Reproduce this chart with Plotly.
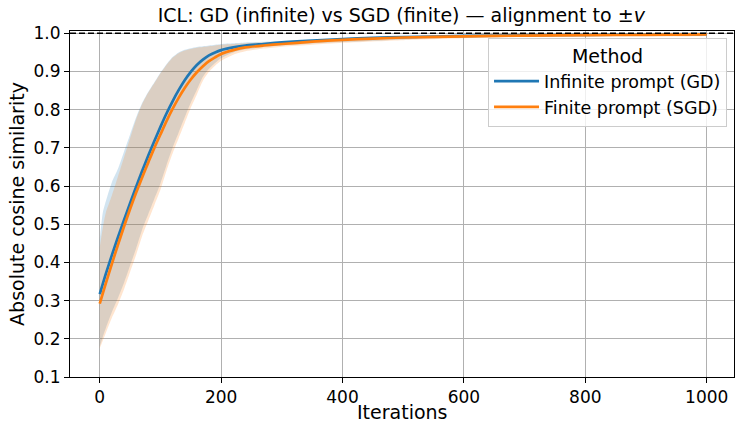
import plotly.graph_objects as go

# ---- data ----
mean_iters = [0, 10, 20, 30, 40, 50, 60, 70, 80, 90, 100, 110, 120, 130, 140, 150, 160, 170, 180,
              190, 200, 220, 240, 270, 300, 350, 400, 450, 500, 600, 700, 800, 900, 1000]
gd_mean = [0.317, 0.370, 0.419, 0.466, 0.511, 0.555, 0.598, 0.640, 0.680, 0.718, 0.755, 0.790,
           0.822, 0.851, 0.877, 0.899, 0.917, 0.931, 0.942, 0.950, 0.956, 0.963, 0.968, 0.972,
           0.976, 0.981, 0.985, 0.988, 0.990, 0.993, 0.995, 0.996, 0.997, 0.998]
sgd_mean = [0.292, 0.345, 0.396, 0.446, 0.494, 0.540, 0.583, 0.623, 0.662, 0.700, 0.735, 0.770,
            0.802, 0.831, 0.857, 0.879, 0.898, 0.914, 0.927, 0.937, 0.946, 0.956, 0.963, 0.968,
            0.972, 0.978, 0.983, 0.986, 0.989, 0.992, 0.994, 0.995, 0.996, 0.997]

band_iters = [0, 5, 10, 20, 30, 40, 50, 60, 70, 80, 90, 100, 110, 120, 130, 140, 150, 160, 170,
              180, 190, 200, 220, 240, 270, 300, 350, 400, 500, 600, 700, 800, 900, 1000]
gd_upper = [0.460, 0.530, 0.560, 0.610, 0.645, 0.690, 0.735, 0.780, 0.818, 0.847, 0.872, 0.897,
            0.919, 0.938, 0.950, 0.957, 0.961, 0.964, 0.966, 0.968, 0.970, 0.972, 0.974, 0.976,
            0.978, 0.980, 0.983, 0.986, 0.991, 0.994, 0.996, 0.997, 0.998, 0.999]
gd_lower = [0.180, 0.205, 0.228, 0.270, 0.307, 0.347, 0.392, 0.437, 0.487, 0.527, 0.567, 0.607,
            0.655, 0.700, 0.740, 0.780, 0.818, 0.852, 0.886, 0.907, 0.922, 0.935, 0.950, 0.958,
            0.964, 0.968, 0.973, 0.977, 0.984, 0.989, 0.991, 0.993, 0.994, 0.995]
sgd_upper = [0.440, 0.490, 0.530, 0.575, 0.625, 0.675, 0.725, 0.775, 0.815, 0.845, 0.870, 0.895,
             0.917, 0.936, 0.948, 0.955, 0.959, 0.962, 0.964, 0.966, 0.968, 0.970, 0.972, 0.974,
             0.976, 0.978, 0.981, 0.984, 0.989, 0.993, 0.995, 0.996, 0.997, 0.998]
sgd_lower = [0.175, 0.195, 0.215, 0.255, 0.290, 0.330, 0.375, 0.420, 0.470, 0.510, 0.550, 0.590,
             0.640, 0.685, 0.725, 0.765, 0.805, 0.840, 0.876, 0.899, 0.915, 0.928, 0.944, 0.953,
             0.960, 0.965, 0.970, 0.975, 0.982, 0.987, 0.990, 0.992, 0.993, 0.994]

reference_value = 1.0
x_ticks = [0, 200, 400, 600, 800, 1000]
y_ticks = [0.1, 0.2, 0.3, 0.4, 0.5, 0.6, 0.7, 0.8, 0.9, 1.0]

BLUE = "#1f77b4"
ORANGE = "#ff7f0e"
FONT = "DejaVu Sans"

fig = go.Figure()

# bands
for up, lo, col in [(gd_upper, gd_lower, "rgba(31,119,180,0.2)"),
                    (sgd_upper, sgd_lower, "rgba(255,127,14,0.2)")]:
    fig.add_trace(go.Scatter(
        x=band_iters + band_iters[::-1],
        y=up + lo[::-1],
        fill="toself", fillcolor=col, line=dict(width=0, shape="spline", smoothing=0.6),
        mode="lines", hoverinfo="skip", showlegend=False))

fig.add_trace(go.Scatter(x=mean_iters, y=gd_mean, mode="lines", name="Infinite prompt (GD)",
                         line=dict(color=BLUE, width=2.7, shape="spline", smoothing=0.6)))
fig.add_trace(go.Scatter(x=mean_iters, y=sgd_mean, mode="lines", name="Finite prompt (SGD)",
                         line=dict(color=ORANGE, width=2.7, shape="spline", smoothing=0.6)))

fig.add_hline(y=reference_value, line=dict(color="black", width=1.4, dash="6px,3px"))

axis_common = dict(
    showline=True, linecolor="black", linewidth=1.1, mirror=True,
    ticks="outside", ticklen=5, tickwidth=1.1, tickcolor="black",
    showgrid=True, gridcolor="#b0b0b0", gridwidth=1.1, zeroline=False,
    tickfont=dict(family=FONT, size=17, color="black"),
    automargin=False,
)

fig.update_xaxes(range=[-49, 1045], tickvals=x_ticks, **axis_common)
fig.update_yaxes(range=[0.1, 1.006], tickvals=y_ticks, tickformat=".1f", **axis_common)

fig.add_annotation(text="Iterations", xref="paper", yref="paper", x=0.5, y=-0.102,
                   xanchor="center", yanchor="middle", showarrow=False,
                   font=dict(family=FONT, size=19, color="black"))
fig.add_annotation(text="Absolute cosine similarity", xref="paper", yref="paper",
                   x=-0.08, y=0.5, xanchor="center", yanchor="middle", textangle=-90,
                   showarrow=False, font=dict(family=FONT, size=19, color="black"))

fig.update_layout(
    width=735, height=425,
    margin=dict(l=70, r=1, t=31, b=48, autoexpand=False),
    paper_bgcolor="white", plot_bgcolor="white",
    font=dict(family=FONT, color="black"),
    title=dict(text="ICL: GD (infinite) vs SGD (finite) — alignment to ±<i>v</i>",
               font=dict(family=FONT, size=19, color="black"),
               x=0.546, xanchor="center", y=0.965, yanchor="middle"),
    legend=dict(
        title=dict(text="Method", font=dict(family=FONT, size=19, color="black"), side="top center"),
        font=dict(family=FONT, size=17.5, color="black"),
        x=0.9895, xanchor="right", y=0.981, yanchor="top",
        bgcolor="rgba(255,255,255,0.8)", bordercolor="#cccccc", borderwidth=1,
        tracegroupgap=0, itemwidth=45,
    ),
    showlegend=True,
)

fig.write_html("out.html", config={"displayModeBar": False},
               post_script="document.body.style.margin='0';document.body.style.overflow='hidden';")
